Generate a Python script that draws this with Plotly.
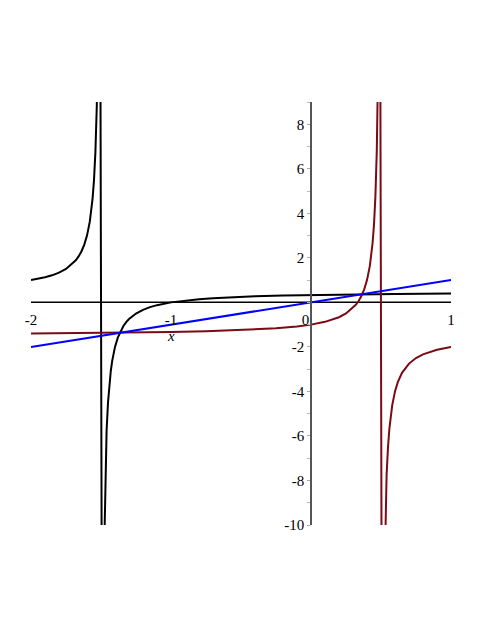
import plotly.graph_objects as go

# Black curve, left branch (x < -1.5) and right branch (x > -1.5)
black_x = [-2.0, -1.95, -1.9, -1.85, -1.8, -1.75, -1.7, -1.68, -1.66, -1.64, -1.62, -1.6,
           -1.58, -1.57, -1.56, -1.55, -1.54, -1.53, -1.52, -1.51,
           -1.49, -1.48, -1.47, -1.46, -1.45, -1.44, -1.43, -1.42, -1.4, -1.38, -1.36,
           -1.34, -1.32, -1.3, -1.25, -1.2, -1.15, -1.1, -1.0, -0.9, -0.8, -0.7, -0.6,
           -0.5, -0.4, -0.2, 0.0, 0.2, 0.4, 0.6, 0.8, 1.0]
black_y = [1.0, 1.0556, 1.125, 1.2143, 1.3333, 1.5, 1.75, 1.8889, 2.0625, 2.2857, 2.5833, 3.0,
           3.625, 4.0714, 4.6667, 5.5, 6.75, 8.8333, 13.0, 25.5,
           -24.5, -12.0, -7.8333, -5.75, -4.5, -3.6667, -3.0714, -2.625, -2.0, -1.5833, -1.2857,
           -1.0625, -0.8889, -0.75, -0.5, -0.3333, -0.2143, -0.125, 0.0, 0.0833, 0.1429, 0.1875, 0.2222,
           0.25, 0.2727, 0.3077, 0.3333, 0.3529, 0.3684, 0.381, 0.3913, 0.4]

# Dark red curve
red_x = [-2.0, -1.75, -1.5, -1.25, -1.0, -0.75, -0.5, -0.25, -0.1, 0.0, 0.1, 0.15, 0.2, 0.25,
         0.3, 0.32, 0.34, 0.36, 0.38, 0.4, 0.42, 0.43, 0.44, 0.45, 0.46, 0.47, 0.48, 0.49,
         0.51, 0.52, 0.53, 0.54, 0.55, 0.56, 0.58, 0.6, 0.62, 0.65, 0.7, 0.75, 0.8, 0.9, 1.0]
red_y = [-1.4, -1.3889, -1.375, -1.3571, -1.3333, -1.3, -1.25, -1.1667, -1.0833, -1.0, -0.875,
         -0.7857, -0.6667, -0.5, -0.25, -0.1111, 0.0625, 0.2857, 0.5833, 1.0, 1.625, 2.0714,
         2.6667, 3.5, 4.75, 6.8333, 11.0, 23.5,
         -26.5, -14.0, -9.8333, -7.75, -6.5, -5.6667, -4.625, -4.0, -3.5833, -3.1667, -2.75,
         -2.5, -2.3333, -2.125, -2.0]

# Blue line
blue_x = [-2.0, 1.0]
blue_y = [-2.0, 1.0]

x_tickvals = [-2, -1, 0, 1]
x_ticktext = ["-2", "-1", "0\u00a0\u00a0\u00a0", "1"]
y_tickvals = [8, 6, 4, 2, -2, -4, -6, -8, -10]
y_ticktext = ["8", "6", "4", "2", "-2", "-4", "-6", "-8", "-10"]

X_RANGE = [-2, 1]
Y_RANGE = [-10, 9]

fig = go.Figure()
fig.add_trace(go.Scatter(x=black_x, y=black_y, mode="lines",
                         line=dict(color="#000000", width=2)))
fig.add_trace(go.Scatter(x=red_x, y=red_y, mode="lines",
                         line=dict(color="#7a0a14", width=2)))
fig.add_trace(go.Scatter(x=blue_x, y=blue_y, mode="lines",
                         line=dict(color="#0000ff", width=2)))

SERIF = "Liberation Serif"
font = dict(family=SERIF, size=15, color="#000000")

fig.update_layout(
    width=475, height=619,
    margin=dict(l=23, r=32, t=94, b=102, autoexpand=False),
    paper_bgcolor="white", plot_bgcolor="white",
    showlegend=False,
    font=font,
    xaxis=dict(range=X_RANGE, showgrid=False, zeroline=False, automargin=False,
               anchor="free", position=(0 - Y_RANGE[0]) / (Y_RANGE[1] - Y_RANGE[0]),
               showline=False,
               tickvals=x_tickvals, ticktext=x_ticktext, ticks="outside", ticklen=4,
               tickcolor="rgba(0,0,0,0)",
               tickfont=font),
    yaxis=dict(range=Y_RANGE, showgrid=False, zeroline=False, automargin=False,
               anchor="free", position=(0 - X_RANGE[0]) / (X_RANGE[1] - X_RANGE[0]),
               showline=True, linecolor="#555555", linewidth=1.5,
               tickvals=y_tickvals, ticktext=y_ticktext, ticks="outside", ticklen=3,
               tickcolor="#aaaaaa", tickwidth=1,
               minor=dict(dtick=1, ticks="outside", ticklen=3, tickcolor="#bbbbbb", tickwidth=1),
               tickfont=font),
    shapes=[dict(type="line", xref="x", yref="y", x0=X_RANGE[0], x1=X_RANGE[1], y0=0, y1=0,
                 line=dict(color="#000000", width=1.5), layer="below")],
    annotations=[dict(x=-1.0, y=-1.5, xref="x", yref="y", text="<i>x</i>", showarrow=False,
                      font=dict(family=SERIF, size=15))],
)

fig.write_html("out.html")
